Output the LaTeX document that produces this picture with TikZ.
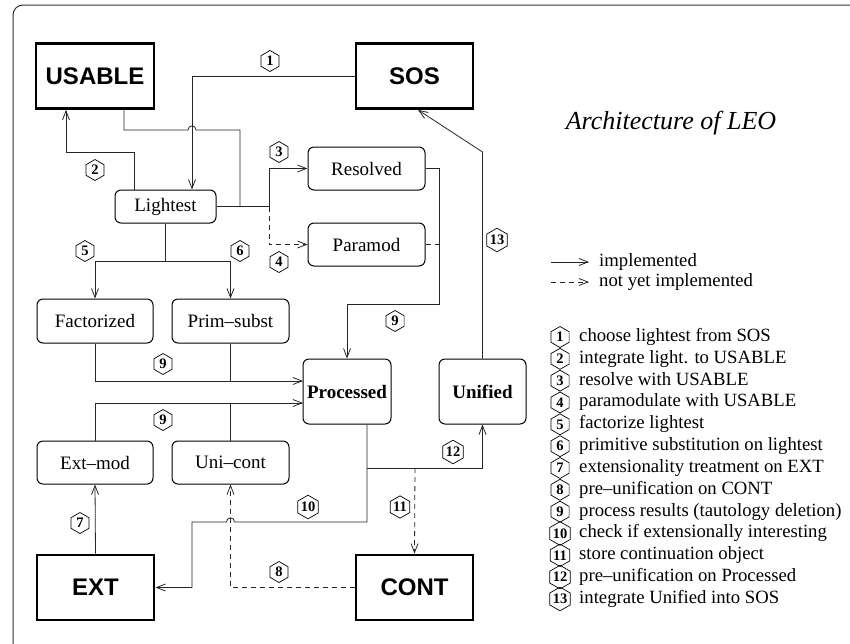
\documentclass[tikz,border=0pt]{standalone}
\usepackage{fontspec}
\setmainfont{Liberation Serif}
\newfontfamily\helv{Liberation Sans}
\usetikzlibrary{arrows.meta,shapes.geometric}
\begin{document}
\begin{tikzpicture}[x=1pt,y=-1pt,
  big/.style={draw, line width=2.8pt, minimum width=117pt, minimum height=65pt, inner sep=0, font=\helv\bfseries\fontsize{24}{28}\selectfont},
  rbox/.style={draw, line width=1pt, rounded corners=6pt, minimum width=117pt, minimum height=43pt, inner sep=0, font=\fontsize{19}{22}\selectfont},
  pbox/.style={rbox, minimum width=88pt, minimum height=65pt, font=\bfseries\fontsize{19}{22}\selectfont},
  conn/.style={draw=black!85, line width=0.8pt},
  arr/.style={conn, -{Straight Barb[length=9pt,width=7pt]}},
  dsh/.style={dash pattern=on 5pt off 4pt},
  hexn/.style={draw, line width=0.7pt, regular polygon, regular polygon sides=6, regular polygon rotate=30, minimum size=21pt, inner sep=0, font=\bfseries\fontsize{14.5}{14.5}\selectfont},
  legtext/.style={anchor=west, inner sep=0, text height=13pt, text depth=4pt, font=\fontsize{18.7}{20}\selectfont},
]
\useasboundingbox (0,0) rectangle (850,643);
\draw[line width=1pt, draw=black!80, rounded corners=10pt] (13,5) rectangle (880,680);

% main boxes
\node[big, minimum width=118pt] (USABLE) at (95,76) {USABLE};
\node[big] (SOS) at (414.5,76) {SOS};
\node[big] (EXT) at (95.5,587.5) {EXT};
\node[big] (CONT) at (414.5,587.5) {CONT};

% rounded boxes
\node[rbox, minimum width=101pt, minimum height=33pt] (Lightest) at (165.5,206.5) {Lightest};
\node[rbox] (Resolved) at (366.5,168.5) {Resolved};
\node[rbox] (Paramod) at (366.5,244.5) {Paramod};
\node[rbox, minimum width=116pt, minimum height=44pt] (Factorized) at (95,321) {Factorized};
\node[rbox, minimum height=44pt] (Prim) at (230.5,321) {Prim\textendash subst};
\node[rbox, minimum width=116pt] (Extmod) at (95,462.5) {Ext\textendash mod};
\node[rbox] (Unicont) at (230.5,462.5) {Uni\textendash cont};
\node[pbox] (Processed) at (347,391.5) {Processed};
\node[pbox, minimum width=87pt] (Unified) at (482.5,391.5) {Unified};

% title
\node[font=\itshape\fontsize{26}{30}\selectfont] (title) at (671,123) {Architecture of LEO};

% bend coordinates
\coordinate (split) at (269,206.5);
\coordinate (resR) at (439,168.5);
\coordinate (resD) at (439,304);
\coordinate (lsplit) at (165.5,261);
\coordinate (in1) at (303,381);
\coordinate (in2) at (303,403);
\coordinate (pdown) at (367,522);
\coordinate (split2) at (367,468);

% 1
\draw[arr] (SOS.west) -| ([xshift=26.5pt]Lightest.north);
% USABLE feed
\draw[conn] ([xshift=29pt]USABLE.south) -- (124,130) -- (188,130) .. controls (188,124.5) and (196,124.5) .. (196,130) -- (240,130) -- (240,206.5);
% 2
\draw[arr] ([xshift=-31.5pt]Lightest.north) -- (134,152) -| ([xshift=-29pt]USABLE.south);
% 3 and 4
\draw[arr] (Lightest.east) -- (split) |- (Resolved.west);
\draw[arr, dsh] (split) |- (Paramod.west);
% 9 from Resolved
\draw[arr] (Resolved.east) -- (resR) -- (resD) -| (Processed.north);
\draw[conn, dsh] (Paramod.east) -- (439,244.5);
% 5 and 6
\draw[conn] (Lightest.south) -- (lsplit);
\draw[arr] (lsplit) -| (Factorized.north);
\draw[arr] (lsplit) -| (Prim.north);
% 9 to Processed
\draw[arr] (Factorized.south) |- (in1);
\draw[conn] (Prim.south) -- (Prim.south |- in1);
\draw[arr] (Extmod.north) |- (in2);
\draw[conn] (Unicont.north) -- (Unicont.north |- in2);
% 7
\draw[arr] (EXT.north) -- (Extmod.south);
% 10
\draw[arr] ([xshift=20pt]Processed.south) -- (pdown) -- (234.5,522) .. controls (234.5,516.5) and (226.5,516.5) .. (226.5,522) -- (192,522) |- (EXT.east);
% 8
\draw[arr, dsh] (CONT.west) -| (Unicont.south);
% 12
\draw[arr] (split2) -| (Unified.south);
% 11
\draw[arr, dsh] (415,468) -- (CONT.north);
% 13
\draw[arr] (Unified.north) -- (482.5,152) -- ([xshift=3.5pt]SOS.south);

% hex labels
\node[hexn] (n1) at (270,61) {1};
\node[hexn] (n2) at (95,170) {2};
\node[hexn] (n3) at (279,152) {3};
\node[hexn] (n4) at (279,262) {4};
\node[hexn] (n5) at (85,251) {5};
\node[hexn] (n6) at (240,251) {6};
\node[hexn] (n9a) at (395,321) {9};
\node[hexn] (n9b) at (163,364) {9};
\node[hexn] (n9c) at (163,420) {9};
\node[hexn] (n7) at (80,523) {7};
\node[hexn] (n10) at (308,507) {10};
\node[hexn] (n11) at (400,507) {11};
\node[hexn] (n8) at (279,572) {8};
\node[hexn] (n12) at (453,452) {12};
\node[hexn] (n13) at (497,240) {13};

% legend
\coordinate (l1a) at (551,262); \coordinate (l1b) at (589,262);
\coordinate (l2a) at (551,282); \coordinate (l2b) at (589,282);
\draw[arr] (l1a) -- (l1b);
\draw[arr, dsh] (l2a) -- (l2b);
\node[legtext] (limpl) at (599,262) {implemented};
\node[legtext] (lnot) at (599,282) {not yet implemented};

\foreach \i/\t in {1/choose lightest from SOS,2/integrate light. to USABLE,3/resolve with USABLE,4/paramodulate with USABLE,5/factorize lightest,6/primitive substitution on lightest,7/extensionality treatment on EXT,8/pre\textendash unification on CONT,9/process results (tautology deletion),10/check if extensionally interesting,11/store continuation object,12/pre\textendash unification on Processed,13/integrate Unified into SOS}{
  \node[hexn] (h\i) at (560,{337+(\i-1)*21.83}) {\i};
  \node[legtext] (t\i) at (579,{337+(\i-1)*21.83}) {\t};
}
\end{tikzpicture}
\end{document}
